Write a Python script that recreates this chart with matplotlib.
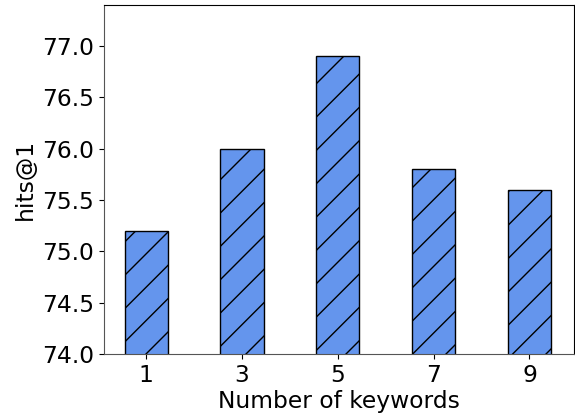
import matplotlib.pyplot as plt

keywords = [1, 3, 5, 7, 9]
hits = [75.2, 76.0, 76.9, 75.8, 75.6]

fig = plt.figure(figsize=(5.75, 4.19), dpi=100)
ax = fig.add_axes([104/575, 65/419, 470/575, 349/419])

ax.bar(keywords, hits, width=0.9, bottom=0, color='cornflowerblue',
       edgecolor='black', linewidth=1.0, hatch='/')

ax.set_ylim(74.0, 77.4)
ax.set_xlim(0.12, 9.93)
ax.set_xticks(keywords)
ax.set_yticks([74.0, 74.5, 75.0, 75.5, 76.0, 76.5, 77.0])
ax.set_yticklabels(['74.0', '74.5', '75.0', '75.5', '76.0', '76.5', '77.0'])
ax.tick_params(labelsize=16.8)
ax.set_xlabel('Number of keywords', fontsize=16.8, labelpad=2)
ax.set_ylabel('hits@1', fontsize=16.8)
for s in ['left', 'bottom']:
    ax.spines[s].set_color('#555555')

fig.savefig('out.png', dpi=100)
